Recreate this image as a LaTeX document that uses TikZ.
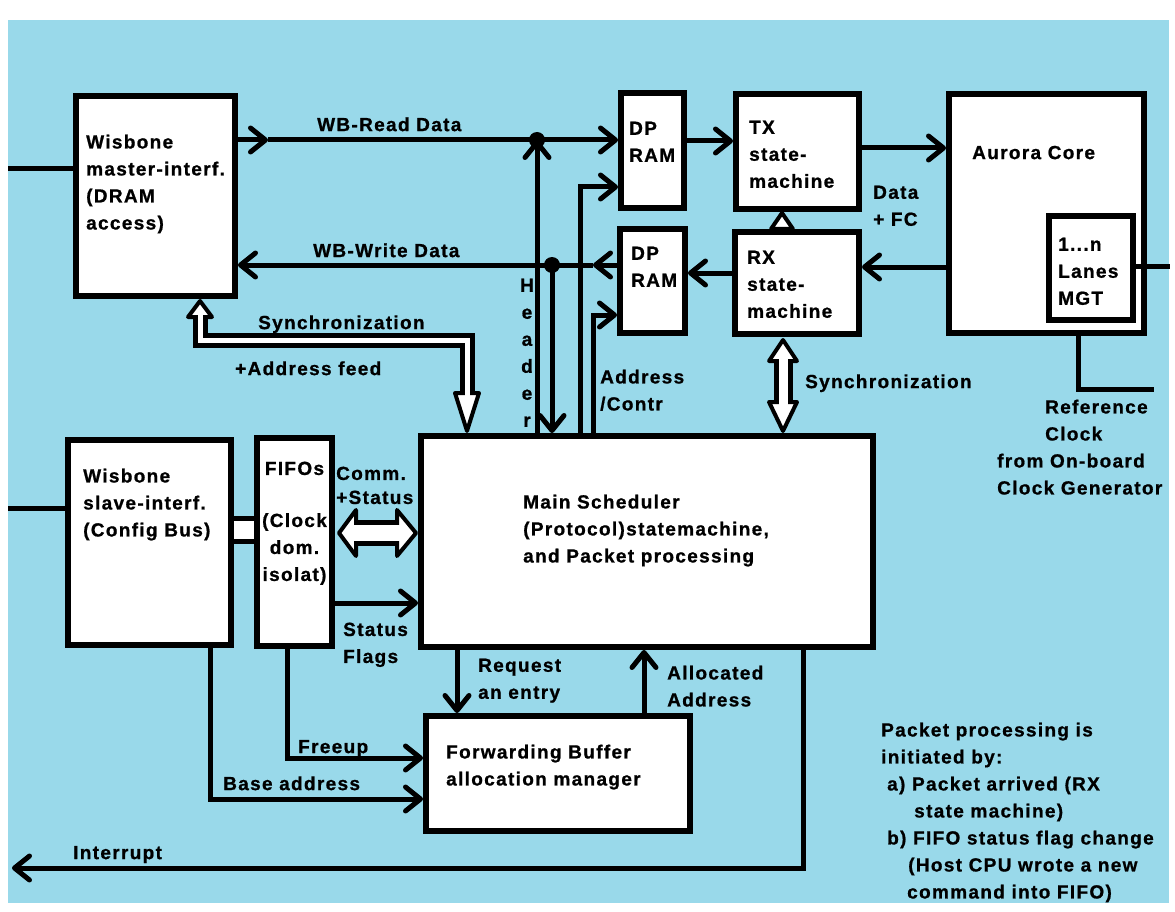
\documentclass[tikz,border=0pt]{standalone}
\usepackage{fontspec}
\newfontfamily\lblfont[LetterSpace=7, BoldFeatures={FakeBold=0.9}]{Liberation Sans}
\usetikzlibrary{arrows.meta}
\definecolor{bgblue}{RGB}{153,217,234}
\newcommand{\lblfnt}{\lblfont\bfseries\fontsize{19}{27}\selectfont}
\begin{document}
\begin{tikzpicture}[x=1pt,y=-1pt,
  >={Straight Barb[length=15pt,width=24pt,line width=5pt,round]},
  blk/.style={draw=black, fill=white, line width=6pt, inner sep=0pt, outer sep=3pt},
  wire/.style={draw=black, line width=5pt},
  lbl/.style={anchor=north west, inner sep=0pt, align=left, font=\lblfnt, execute at begin node=\strut},
  mlbl/.style={lbl, yshift=-5.5pt},
  clbl/.style={mlbl, anchor=north, align=center},
  dot/.style={circle, fill=black, minimum size=16pt, inner sep=0pt},
  hhead/.style={fill=white, draw=black, line width=4pt, line join=round},
]
\useasboundingbox (0,0) rectangle (1175,912);
\fill[white] (0,0) rectangle (1175,912);
\fill[bgblue] (8,20) rectangle (1169,903);

% boxes
\node[blk, line width=5pt, minimum width=26pt, minimum height=23pt] (link) at (244,529.5) {};
\node[blk, minimum width=159pt, minimum height=200pt] (master) at (155.5,196) {};
\node[blk, minimum width=63pt, minimum height=115pt] (dp1) at (652.5,150.5) {};
\node[blk, minimum width=123pt, minimum height=115pt] (tx) at (797.5,151.5) {};
\node[blk, minimum width=65pt, minimum height=104pt] (dp2) at (652.5,281) {};
\node[blk, minimum width=124pt, minimum height=102pt] (rx) at (797,283) {};
\node[blk, minimum width=195pt, minimum height=239pt] (aurora) at (1046.5,213.5) {};
\node[blk, minimum width=84pt, minimum height=104pt] (mgt) at (1091,268) {};
\node[blk, minimum width=452pt, minimum height=211pt] (main) at (647,541.5) {};
\node[blk, minimum width=264pt, minimum height=115pt] (fwd) at (558,773.5) {};
\node[blk, minimum width=163pt, minimum height=205pt] (slave) at (149.5,542.5) {};
\node[blk, minimum width=75pt, minimum height=208pt] (fifo) at (294.5,542) {};

% plain wires
\coordinate (inA) at (8,169);
\draw[wire] (inA) -- (master.west |- inA);
\coordinate (inB) at (8,508);
\draw[wire] (inB) -- (slave.west |- inB);

\coordinate (rdY) at (0,140);
\coordinate (rdMid) at (268,140);
\node[dot] (j1) at (537,140) {};
\draw[wire,->] (master.east |- rdY) -- (rdMid);
\draw[wire,->] (rdMid) -- (dp1.west |- rdY);
\draw[wire,->] (main.north -| j1) -- (j1.center);

\coordinate (wrY) at (0,265);
\coordinate (wrMid) at (593,265);
\node[dot] (j2) at (552,265) {};
\draw[wire,->] (dp2.west |- wrY) -- (wrMid);
\draw[wire,->] (wrMid) -- (master.east |- wrY);
\draw[wire,->] (j2.center) -- (main.north -| j2);

\coordinate (ac1) at (580,187);
\draw[wire,->] (main.north -| ac1) |- (dp1.west |- ac1);
\coordinate (ac2) at (593,315);
\draw[wire,->] (main.north -| ac2) |- (dp2.west |- ac2);

\coordinate (dtY) at (0,141);
\draw[wire,->] (dp1.east |- dtY) -- (tx.west |- dtY);
\coordinate (taY) at (0,148);
\draw[wire,->] (tx.east |- taY) -- (aurora.west |- taY);
\coordinate (arY) at (0,267);
\draw[wire,->] (aurora.west |- arY) -- (rx.east |- arY);
\coordinate (rdY2) at (0,273);
\draw[wire,->] (rx.west |- rdY2) -- (dp2.east |- rdY2);
\coordinate (mgtOut) at (1170,266);
\draw[wire] (mgt.east |- mgtOut) -- (mgtOut);

\coordinate (rcC) at (1078,389);
\coordinate (rcE) at (1154,389);
\draw[wire] (aurora.south -| rcC) -- (rcC) -- (rcE);

\coordinate (sfY) at (0,603);
\draw[wire,->] (fifo.east |- sfY) -- (main.west |- sfY);
\coordinate (rqX) at (457,0);
\draw[wire,->] (main.south -| rqX) -- (fwd.north -| rqX);
\coordinate (alX) at (644,0);
\draw[wire,->] (fwd.north -| alX) -- (main.south -| alX);
\coordinate (irqC) at (803,868);
\coordinate (irqE) at (12,868);
\draw[wire,->] (main.south -| irqC) -- (irqC) -- (irqE);
\coordinate (fuC) at (287,758);
\draw[wire,->] (fifo.south -| fuC) |- (fwd.west |- fuC);
\coordinate (baC) at (210,799);
\draw[wire,->] (slave.south -| baC) |- (fwd.west |- baC);

% hollow arrow: master <-> main (Synchronization + Address feed)
\filldraw[hhead] (188,317) -- (200,301) -- (212,317) -- cycle;
\filldraw[hhead] (455,393) -- (467,431) -- (479,393) -- cycle;
\draw[line width=15pt] (200,317) -- (200,340) -- (467,340) -- (467,393);
\draw[white, line width=5pt] (200,312) -- (200,340) -- (467,340) -- (467,399);

% hollow arrow: rx <-> main
\filldraw[hhead] (769,361) -- (783,340) -- (797,361) -- cycle;
\filldraw[hhead] (769,402) -- (783,431) -- (797,402) -- cycle;
\draw[line width=19pt] (783,361) -- (783,402);
\draw[white, line width=9pt] (783,355) -- (783,408);

% hollow arrow: fifo <-> main
\filldraw[hhead] (356,510) -- (339,533) -- (356,556) -- cycle;
\filldraw[hhead] (397,510) -- (416,533) -- (397,556) -- cycle;
\draw[line width=26pt] (356,533) -- (397,533);
\draw[white, line width=16pt] (350,533) -- (403,533);

% small arrow rx -> tx
\filldraw[hhead] (771,229) -- (782,213) -- (793,229) -- cycle;

% labels
\node[mlbl] (tMaster) at (86,129) {Wisbone\\master-interf.\\(DRAM\\access)};
\node[mlbl] (tSlave) at (83,463) {Wisbone\\slave-interf.\\(Config Bus)};
\node[clbl] (tFifo) at (294.5,456) {FIFOs\\[25pt](Clock\\dom.\\isolat)};
\node[mlbl] (tComm) at (336,461) {Comm.\\[-3pt]+Status};
\node[mlbl] (tFlags) at (343,617) {Status\\Flags};
\node[mlbl] (tMain) at (523,489) {Main Scheduler\\(Protocol)statemachine,\\and Packet processing};
\node[mlbl] (tReq) at (478,653) {Request\\an entry};
\node[mlbl] (tAlloc) at (667,660) {Allocated\\Address};
\node[mlbl] (tFwd) at (446,739) {Forwarding Buffer\\allocation manager};
\node[lbl] (tFree) at (298,734) {Freeup};
\node[lbl] (tBase) at (223,771) {Base address};
\node[lbl] (tIrq) at (73,840) {Interrupt};
\node[mlbl] (tNote) at (881,717) {Packet processing is\\initiated by:\\\hspace*{6pt}a) Packet arrived (RX\\\hspace*{33pt}state machine)\\\hspace*{6pt}b) FIFO status flag change\\\hspace*{27pt}(Host CPU wrote a new\\\hspace*{26pt}command into FIFO)};
\node[mlbl] (tRef) at (997,394) {\hspace*{48pt}Reference\\\hspace*{48pt}Clock\\from On-board\\Clock Generator};
\node[lbl] (tSync2) at (805,369) {Synchronization};
\node[lbl] (tSync1) at (258,310) {Synchronization};
\node[lbl] (tAddr) at (235,356) {+Address feed};
\node[clbl] (tHeader) at (527,273) {H\\e\\a\\d\\e\\r};
\node[mlbl] (tAC) at (600,364) {Address\\/Contr};
\node[lbl] (tRead) at (317,112) {WB-Read Data};
\node[lbl] (tWrite) at (313,238) {WB-Write Data};
\node[mlbl] (tDp1) at (629,116) {DP\\RAM};
\node[mlbl] (tDp2) at (631,241) {DP\\RAM};
\node[mlbl] (tTx) at (749,115) {TX\\state-\\machine};
\node[mlbl] (tRx) at (747,245) {RX\\state-\\machine};
\node[mlbl] (tData) at (873,180) {Data\\+ FC};
\node[lbl] (tAurora) at (972,140) {Aurora Core};
\node[mlbl] (tMgt) at (1058,232) {1...n\\Lanes\\MGT};
\end{tikzpicture}
\end{document}
